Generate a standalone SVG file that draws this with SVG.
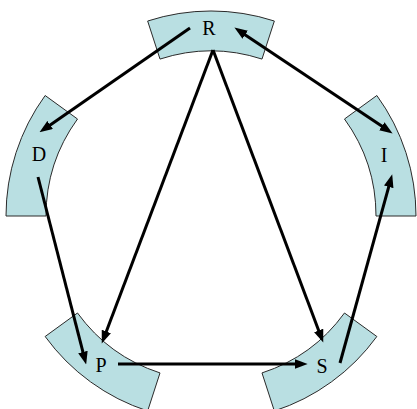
<svg xmlns="http://www.w3.org/2000/svg" width="417" height="409" viewBox="0 0 417 409">
<style>
.sec{fill:#B9DFE2;stroke:#2a2a2a;stroke-width:1}
.lbl{font-family:"Liberation Serif","Times New Roman",serif;font-size:20px;fill:#000;text-anchor:middle}
.arr{stroke:#000;stroke-width:3;fill:none;marker-end:url(#ah)}
</style>
<defs>
<marker id="ah" markerUnits="userSpaceOnUse" markerWidth="13" markerHeight="10" refX="4" refY="4.5" orient="auto-start-reverse" viewBox="0 0 12 9">
<path d="M0,0 L12,4.5 L0,9 Z" fill="#000"/>
</marker>
</defs>
<rect width="417" height="409" fill="#fff"/>
<g id="node-R"><path class="sec" d="M147.65,21.03 A205,205 0 0 1 274.35,21.03 L261.99,59.07 A165,165 0 0 0 160.01,59.07 Z"/><text class="lbl" x="209" y="35">R</text></g>
<g id="node-I"><path class="sec" d="M376.85,95.5 A205,205 0 0 1 416,216 L376,216 A165,165 0 0 0 344.49,119.01 Z"/><text class="lbl" x="384" y="162">I</text></g>
<g id="node-S"><path class="sec" d="M376.85,336.5 A205,205 0 0 1 274.35,410.97 L261.99,372.93 A165,165 0 0 0 344.49,312.99 Z"/><text class="lbl" x="322" y="373">S</text></g>
<g id="node-P"><path class="sec" d="M147.65,410.97 A205,205 0 0 1 45.15,336.5 L77.51,312.99 A165,165 0 0 0 160.01,372.93 Z"/><text class="lbl" x="101" y="372">P</text></g>
<g id="node-D"><path class="sec" d="M6,216 A205,205 0 0 1 45.15,95.5 L77.51,119.01 A165,165 0 0 0 46,216 Z"/><text class="lbl" x="39" y="161">D</text></g>
<g id="connectors">
<line class="arr" x1="190" y1="28" x2="46.6" y2="127.4"/>
<line class="arr" x1="241.6" y1="32.4" x2="385.4" y2="128.6" marker-start="url(#ah)"/>
<line class="arr" x1="213" y1="50" x2="104.8" y2="335.5"/>
<line class="arr" x1="213" y1="50" x2="320.2" y2="334.5"/>
<line class="arr" x1="38" y1="177" x2="84" y2="356.2"/>
<line class="arr" x1="118" y1="364" x2="299" y2="364"/>
<line class="arr" x1="340" y1="363" x2="389.9" y2="182.7"/>
</g>
</svg>
